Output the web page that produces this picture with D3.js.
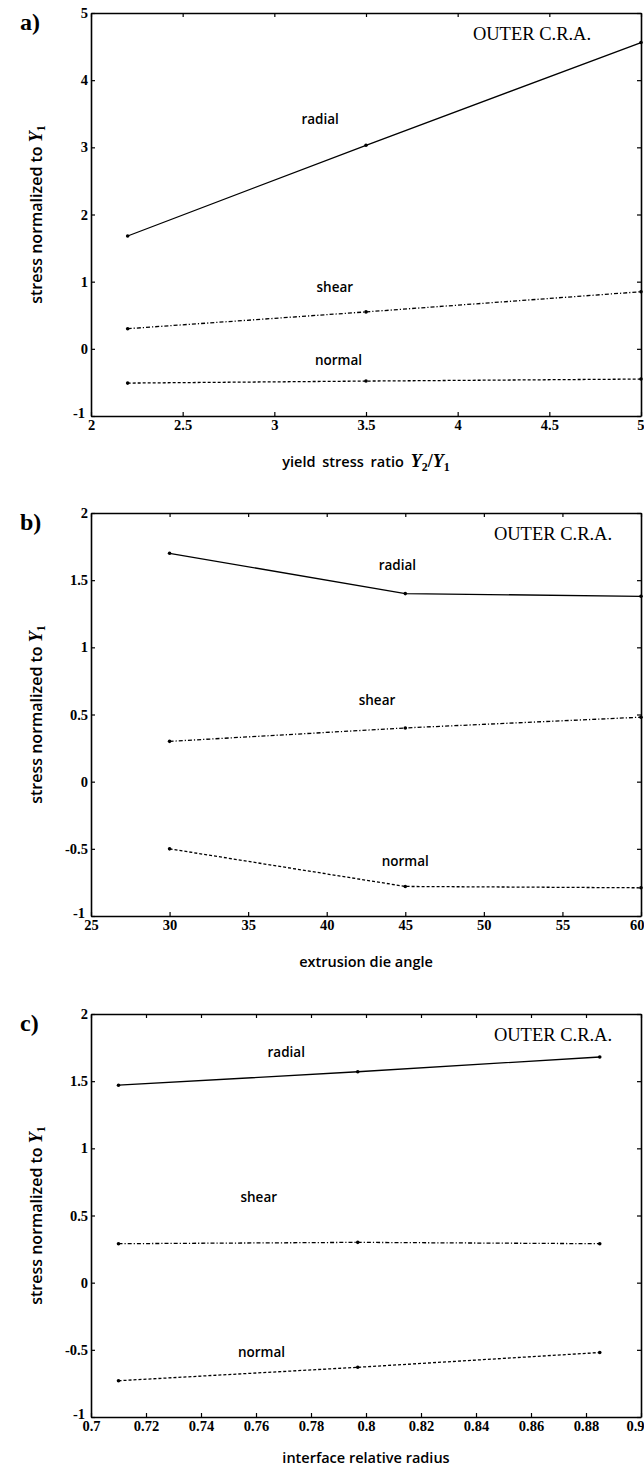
<!DOCTYPE html>
<html><head><meta charset="utf-8">
<script src="https://cdn.jsdelivr.net/npm/d3@7"></script>
<style>body{margin:0;background:#fff}</style>
</head><body><svg id="chart" width="644" height="1468"></svg>
<script>
// ---- Panel a: yield stress ratio ----
const aX = [2.2, 3.5, 5];
const aRadial = [1.68, 3.03, 4.56];
const aShear = [0.30, 0.55, 0.85];
const aNormal = [-0.51, -0.48, -0.45];
const aXTicks = [2, 2.5, 3, 3.5, 4, 4.5, 5];
const aYTicks = [-1, 0, 1, 2, 3, 4, 5];

// ---- Panel b: extrusion die angle ----
const bX = [30, 45, 60];
const bRadial = [1.70, 1.40, 1.38];
const bShear = [0.30, 0.40, 0.48];
const bNormal = [-0.50, -0.78, -0.79];
const bXTicks = [25, 30, 35, 40, 45, 50, 55, 60];
const bYTicks = [-1, -0.5, 0, 0.5, 1, 1.5, 2];

// ---- Panel c: interface relative radius ----
const cX = [0.71, 0.797, 0.885];
const cRadial = [1.47, 1.57, 1.68];
const cShear = [0.29, 0.30, 0.29];
const cNormal = [-0.73, -0.63, -0.52];
const cXTicks = [0.7, 0.72, 0.74, 0.76, 0.78, 0.8, 0.82, 0.84, 0.86, 0.88, 0.9];
const cYTicks = [-1, -0.5, 0, 0.5, 1, 1.5, 2];

const seriesNames = ["radial", "shear", "normal"];
const dashes = {radial: null, shear: "4,2,1.2,2", normal: "3,2"};

const panels = [
  {tag: "a)", top: 13, xDom: [2, 5], yDom: [-1, 5], x: aX, ys: [aRadial, aShear, aNormal],
   xt: aXTicks, yt: aYTicks, xTitle: "yield", titleOff: 51,
   lab: [[3.25, 3.4], [3.33, 0.9], [3.35, -0.18]], outer: 532},
  {tag: "b)", top: 513, xDom: [25, 60], yDom: [-1, 2], x: bX, ys: [bRadial, bShear, bNormal],
   xt: bXTicks, yt: bYTicks, xTitle: "extrusion die angle", titleOff: 51,
   lab: [[44.5, 1.6], [43.2, 0.6], [45, -0.6]], outer: 553},
  {tag: "c)", top: 1014, xDom: [0.7, 0.9], yDom: [-1, 2], x: cX, ys: [cRadial, cShear, cNormal],
   xt: cXTicks, yt: cYTicks, xTitle: "interface relative radius", titleOff: 46,
   lab: [[0.771, 1.71], [0.761, 0.63], [0.762, -0.53]], outer: 553}
];

const svg = d3.select("#chart");
const L = 91, R = 641, H = 403;
const serif = "'Liberation Serif', 'Times New Roman', serif";
const sans = "'Open Sans', 'DejaVu Sans', sans-serif";

panels.forEach(p => {
  const x = d3.scaleLinear().domain(p.xDom).range([L, R]);
  const y = d3.scaleLinear().domain(p.yDom).range([p.top + H, p.top]);
  const g = svg.append("g");
  const fmt = d => String(+d.toFixed(2));

  const ax = [
    d3.axisBottom(x).tickValues(p.xt).tickSizeInner(-4).tickSizeOuter(0).tickPadding(4).tickFormat(fmt),
    d3.axisTop(x).tickValues(p.xt).tickSizeInner(-4).tickSizeOuter(0).tickFormat(""),
    d3.axisLeft(y).tickValues(p.yt).tickSizeInner(-4).tickSizeOuter(0).tickPadding(3).tickFormat(fmt),
    d3.axisRight(y).tickValues(p.yt).tickSizeInner(-4).tickSizeOuter(0).tickFormat("")
  ];
  const pos = [`translate(0,${p.top + H})`, `translate(0,${p.top})`, `translate(${L},0)`, `translate(${R},0)`];
  ax.forEach((a, i) => {
    const ag = g.append("g").attr("transform", pos[i]).call(a);
    ag.select(".domain").attr("stroke", "#000").attr("stroke-width", 1.6);
    ag.selectAll(".tick line").attr("stroke", "#000").attr("stroke-width", 1.2);
    ag.selectAll(".tick text").attr("font-family", serif).attr("font-weight", "bold")
      .attr("font-size", 14.5).attr("fill", "#000");
    if (i === 0) {
      ag.selectAll(".tick text").filter(d => d === p.xt[p.xt.length - 1])
        .attr("text-anchor", "end").attr("dx", 3);
    }
    if (i === 2) {
      ag.selectAll(".tick text").filter(d => d === p.yt[0])
        .attr("dx", -3).attr("dy", "0.1em");
    }
  });

  p.ys.forEach((vals, si) => {
    const name = seriesNames[si];
    const pts = p.x.map((xv, i) => [xv, vals[i]]);
    g.append("path").datum(pts)
      .attr("d", d3.line().x(d => x(d[0])).y(d => y(d[1])))
      .attr("fill", "none").attr("stroke", "#000").attr("stroke-width", 1.3)
      .attr("stroke-dasharray", dashes[name]);
    g.selectAll(null).data(pts).enter().append("circle")
      .attr("cx", d => x(d[0])).attr("cy", d => y(d[1])).attr("r", 1.8).attr("fill", "#000");
    g.append("text").attr("x", x(p.lab[si][0])).attr("y", y(p.lab[si][1]))
      .attr("text-anchor", "middle").attr("dominant-baseline", "middle")
      .attr("font-family", sans).attr("font-weight", 600).attr("font-size", 13.5)
      .text(name);
  });

  g.append("text").attr("x", p.outer).attr("y", p.top + 27).attr("text-anchor", "middle")
    .attr("font-family", serif).attr("font-size", 18.5).text("OUTER C.R.A.");

  g.append("text").attr("x", 20).attr("y", p.top + 17)
    .attr("font-family", serif).attr("font-weight", "bold").attr("font-size", 24).text(p.tag);

  const yt = g.append("text").attr("transform", `translate(42,${p.top + H / 2}) rotate(-90)`)
    .attr("text-anchor", "middle").attr("font-family", sans).attr("font-weight", 600).attr("font-size", 16);
  yt.append("tspan").text("stress normalized to ");
  yt.append("tspan").attr("font-family", serif).attr("font-style", "italic").attr("font-weight", "bold").attr("font-size", 18).text("Y");
  yt.append("tspan").attr("font-family", serif).attr("font-weight", "bold").attr("font-size", 12).attr("dy", 3).text("1");

  const xt = g.append("text").attr("x", (L + R) / 2).attr("y", p.top + H + p.titleOff)
    .attr("text-anchor", "middle").attr("font-family", sans).attr("font-weight", 600).attr("font-size", 14.5);
  if (p.xTitle === "yield") {
    xt.attr("word-spacing", 3);
    xt.append("tspan").text("yield stress ratio  ");
    xt.append("tspan").attr("font-family", serif).attr("font-style", "italic").attr("font-weight", "bold").attr("font-size", 18).text("Y");
    xt.append("tspan").attr("font-family", serif).attr("font-weight", "bold").attr("font-size", 12).attr("dy", 4).text("2");
    xt.append("tspan").attr("font-family", serif).attr("font-size", 18).attr("dy", -4).text("/");
    xt.append("tspan").attr("font-family", serif).attr("font-style", "italic").attr("font-weight", "bold").attr("font-size", 18).text("Y");
    xt.append("tspan").attr("font-family", serif).attr("font-weight", "bold").attr("font-size", 12).attr("dy", 4).text("1");
  } else {
    xt.text(p.xTitle);
  }
});
</script>
</body></html>
